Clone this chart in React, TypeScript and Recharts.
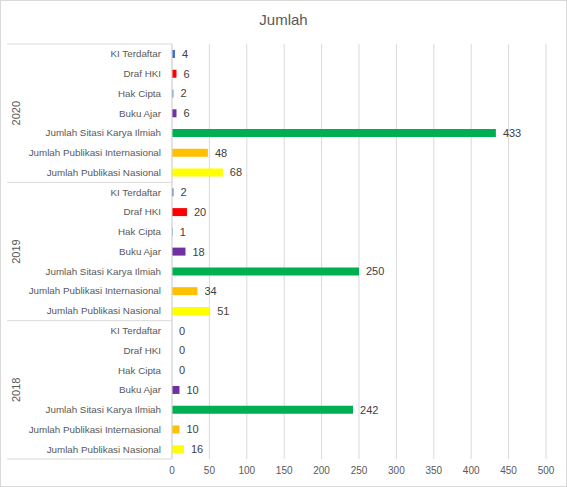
import React from 'react'
import { BarChart, Bar, XAxis, YAxis, CartesianGrid, Cell, LabelList } from 'recharts'

const years = ['2020', '2019', '2018']
const categories = [
  'KI Terdaftar',
  'Draf HKI',
  'Hak Cipta',
  'Buku Ajar',
  'Jumlah Sitasi Karya Ilmiah',
  'Jumlah Publikasi Internasional',
  'Jumlah Publikasi Nasional',
]
const values2020 = [4, 6, 2, 6, 433, 48, 68]
const values2019 = [2, 20, 1, 18, 250, 34, 51]
const values2018 = [0, 0, 0, 10, 242, 10, 16]
const xTicks = [0, 50, 100, 150, 200, 250, 300, 350, 400, 450, 500]

const CATEGORY_COLORS = ['#4472C4', '#FF0000', '#5B9BD5', '#7030A0', '#00B050', '#FFC000', '#FFFF00']

const W = 565
const H = 485
const MARGIN = { top: 43, right: 20, bottom: 7, left: 0 }
const X_AXIS_H = 20
const Y_AXIS_W = 171
const FONT = '"Liberation Sans", Arial, sans-serif'
const TEXT = '#595959'

const valueSets = [values2020, values2019, values2018]
const data = years.flatMap((year, g) =>
  categories.map((label, i) => ({
    id: `${year}-${i}`,
    year,
    label,
    catIndex: i,
    value: valueSets[g][i],
  })),
)

const plotHeight = H - MARGIN.top - MARGIN.bottom - X_AXIS_H
const halfBand = plotHeight / data.length / 2

function CategoryTick(props: any) {
  const { x, y, payload, index } = props
  const row = data[index]
  const half = payload && payload.offset ? payload.offset : halfBand
  const pos = index % categories.length
  return (
    <g>
      <text x={x - 9} y={y} dy="0.35em" textAnchor="end" fontSize={9.8} fill={TEXT} fontFamily={FONT}>
        {row.label}
      </text>
      {pos === 0 && <line x1={6} x2={Y_AXIS_W} y1={y - half} y2={y - half} stroke="#d9d9d9" />}
      {index === data.length - 1 && <line x1={6} x2={Y_AXIS_W} y1={y + half} y2={y + half} stroke="#d9d9d9" />}
      {pos === 3 && (
        <text
          x={15}
          y={y}
          transform={`rotate(-90 15 ${y})`}
          textAnchor="middle"
          dy="0.35em"
          fontSize={11}
          fill={TEXT}
          fontFamily={FONT}
        >
          {row.year}
        </text>
      )}
    </g>
  )
}

export default function App() {
  return (
    <div
      style={{
        position: 'absolute',
        left: 0,
        top: 0,
        width: W,
        height: H,
        border: '1px solid #d9d9d9',
        background: '#fff',
        fontFamily: FONT,
      }}
    >
      <div
        style={{
          position: 'absolute',
          top: 10,
          width: '100%',
          textAlign: 'center',
          fontSize: 15,
          color: TEXT,
        }}
      >
        Jumlah
      </div>
      <BarChart width={W} height={H} data={data} layout="vertical" margin={MARGIN}>
        <CartesianGrid horizontal={false} stroke="#d9d9d9" />
        <XAxis
          type="number"
          domain={[0, 500]}
          ticks={xTicks}
          height={X_AXIS_H}
          axisLine={false}
          tickLine={false}
          tickSize={0}
          tickMargin={8}
          tick={{ fontSize: 10, fill: TEXT, fontFamily: FONT }}
        />
        <YAxis
          type="category"
          dataKey="id"
          width={Y_AXIS_W}
          interval={0}
          tickLine={false}
          tickSize={0}
          axisLine={{ stroke: '#d9d9d9' }}
          tick={<CategoryTick />}
        />
        <Bar dataKey="value" barSize={8} minPointSize={0.01} isAnimationActive={false}>
          {data.map((d) => (
            <Cell key={d.id} fill={CATEGORY_COLORS[d.catIndex]} />
          ))}
          <LabelList dataKey="value" position="right" offset={7} fontSize={11} fill="#404040" fontFamily={FONT} />
        </Bar>
      </BarChart>
    </div>
  )
}
